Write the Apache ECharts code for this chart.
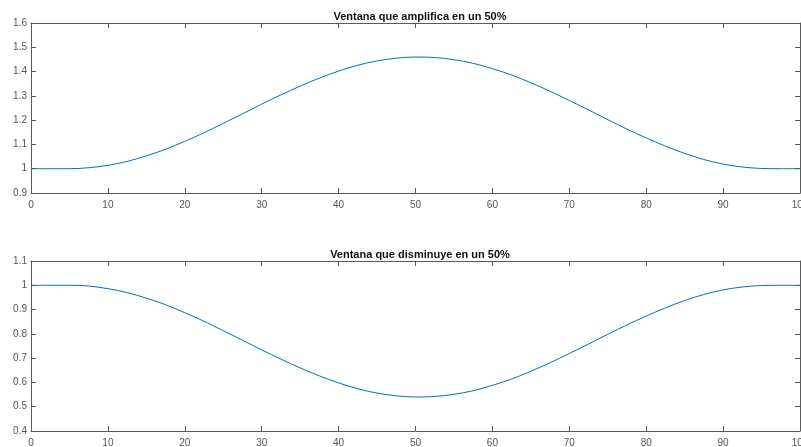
<!DOCTYPE html>
<html>
<head>
<meta charset="utf-8">
<script src="https://cdn.jsdelivr.net/npm/echarts@6/dist/echarts.min.js"></script>
<style>
  html, body { margin: 0; padding: 0; background: #fff; }
  #chart { width: 801px; height: 447px; }
</style>
</head>
<body>
<div id="chart"></div>
<script>
// Sample positions (x axis)
const xs = [0, 2.5, 5, 7.5, 10, 12.5, 15, 17.5, 20, 22.5, 25, 27.5, 30, 32.5, 35, 37.5, 40, 42.5, 45, 47.5,
            50, 52.5, 55, 57.5, 60, 62.5, 65, 67.5, 70, 72.5, 75, 77.5, 80, 82.5, 85, 87.5, 90, 92.5, 95, 97.5, 100];

// Amplifying window
const ampValues = [1.000, 1.000, 1.000, 1.004, 1.014, 1.030, 1.053, 1.080, 1.113, 1.148, 1.187, 1.226, 1.266, 1.304,
                   1.340, 1.373, 1.402, 1.426, 1.444, 1.455, 1.460, 1.458, 1.449, 1.434, 1.412, 1.386, 1.354, 1.319,
                   1.281, 1.242, 1.202, 1.163, 1.127, 1.093, 1.063, 1.038, 1.019, 1.007, 1.001, 1.000, 1.000];

// Attenuating window
const attValues = [1.000, 1.000, 1.000, 0.997, 0.986, 0.970, 0.947, 0.920, 0.887, 0.852, 0.813, 0.774, 0.734, 0.696,
                   0.660, 0.627, 0.598, 0.574, 0.556, 0.545, 0.540, 0.542, 0.551, 0.566, 0.588, 0.614, 0.646, 0.681,
                   0.719, 0.758, 0.798, 0.837, 0.873, 0.907, 0.937, 0.962, 0.981, 0.993, 0.999, 1.000, 1.000];

const titles = ['Ventana que amplifica en un 50%', 'Ventana que disminuye en un 50%'];
const yRanges = [[0.9, 1.6], [0.4, 1.1]];

const axisColor = '#5a5a5a';
const labelColor = '#555555';
const lineColor = '#0072BD';
const font = 'Liberation Sans, Arial, Helvetica, sans-serif';

const grids = [
  { left: 31, top: 23, width: 769, height: 170, containLabel: false, outerBoundsMode: 'none' },
  { left: 31, top: 261, width: 769, height: 170, containLabel: false, outerBoundsMode: 'none' }
];

const xAxes = [];
const yAxes = [];
const series = [];

[ampValues, attValues].forEach((vals, g) => {
  // bottom x axis with labels
  xAxes.push({
    type: 'value', gridIndex: g, position: 'bottom', min: 0, max: 100, interval: 10,
    axisLine: { show: true, onZero: false, lineStyle: { color: axisColor, width: 1 } },
    axisTick: { show: true, inside: true, length: 5, lineStyle: { color: axisColor } },
    axisLabel: { show: true, color: labelColor, fontSize: 10, fontFamily: font, margin: 7,
                 showMinLabel: true, showMaxLabel: true, hideOverlap: false },
    splitLine: { show: false }
  });
  // top x axis (frame)
  xAxes.push({
    type: 'value', gridIndex: g, position: 'top', min: 0, max: 100, interval: 10,
    axisLine: { show: true, onZero: false, lineStyle: { color: axisColor, width: 1 } },
    axisTick: { show: true, inside: true, length: 5, lineStyle: { color: axisColor } },
    axisLabel: { show: false },
    splitLine: { show: false }
  });
  // left y axis with labels
  yAxes.push({
    type: 'value', gridIndex: g, position: 'left', min: yRanges[g][0], max: yRanges[g][1], interval: 0.1,
    axisLine: { show: true, onZero: false, lineStyle: { color: axisColor, width: 1 } },
    axisTick: { show: true, inside: true, length: 5, lineStyle: { color: axisColor } },
    axisLabel: { show: true, color: labelColor, fontSize: 10, fontFamily: font, margin: 4,
                 showMinLabel: true, showMaxLabel: true,
                 formatter: v => String(parseFloat(v.toFixed(1))) },
    splitLine: { show: false }
  });
  // right y axis (frame)
  yAxes.push({
    type: 'value', gridIndex: g, position: 'right', min: yRanges[g][0], max: yRanges[g][1], interval: 0.1,
    axisLine: { show: true, onZero: false, lineStyle: { color: axisColor, width: 1 } },
    axisTick: { show: true, inside: true, length: 5, lineStyle: { color: axisColor } },
    axisLabel: { show: false },
    splitLine: { show: false }
  });

  series.push({
    type: 'line',
    xAxisIndex: g * 2,
    yAxisIndex: g * 2,
    data: xs.map((x, i) => [x, vals[i]]),
    showSymbol: false,
    smooth: 0.35,
    lineStyle: { color: lineColor, width: 1 },
    silent: true,
    animation: false
  });
});

const chart = echarts.init(document.getElementById('chart'), null, { renderer: 'canvas' });
chart.setOption({
  backgroundColor: '#ffffff',
  animation: false,
  title: [
    { text: titles[0], left: 415, top: 6, textAlign: 'center',
      textStyle: { fontSize: 11, fontWeight: 'bold', color: '#111', fontFamily: font } },
    { text: titles[1], left: 415, top: 244, textAlign: 'center',
      textStyle: { fontSize: 11, fontWeight: 'bold', color: '#111', fontFamily: font } }
  ],
  grid: grids,
  xAxis: xAxes,
  yAxis: yAxes,
  series: series
});
</script>
</body>
</html>
